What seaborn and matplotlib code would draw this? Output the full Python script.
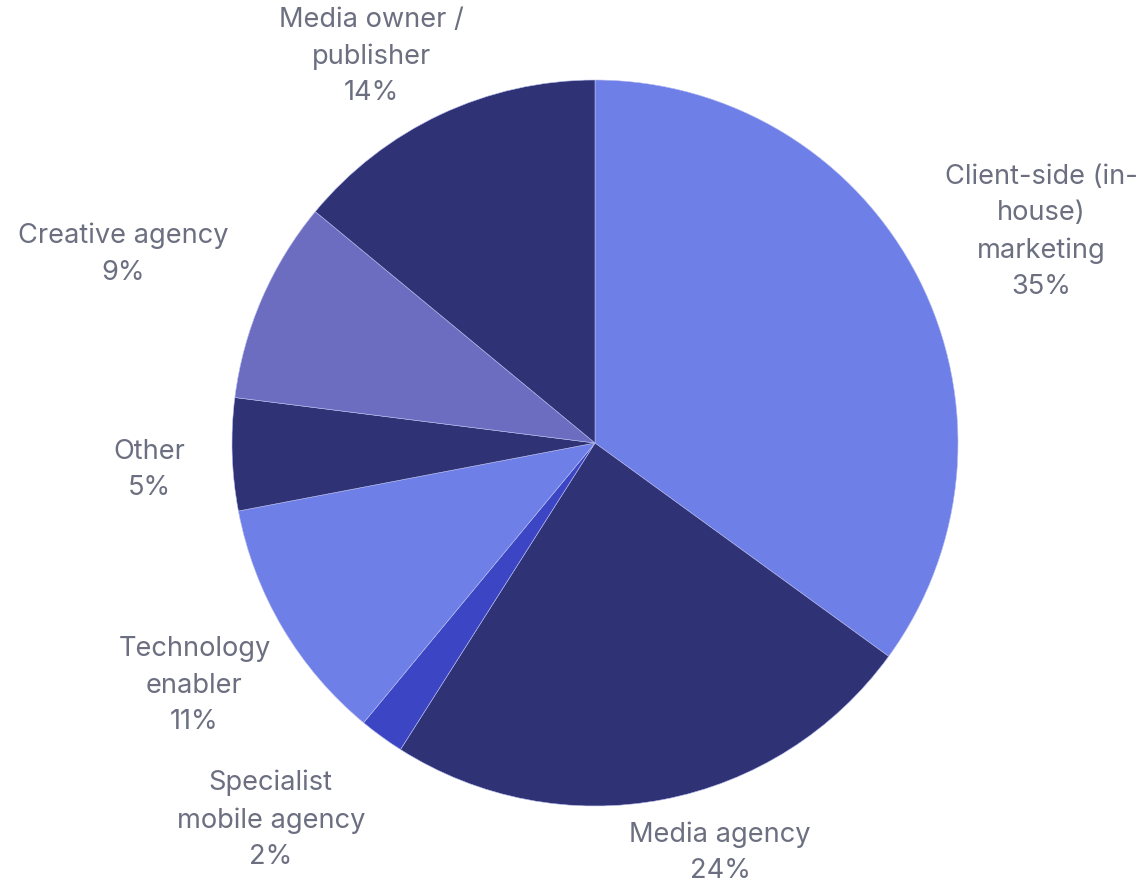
import numpy as np
import matplotlib
matplotlib.use("Agg")
import matplotlib.pyplot as plt
import seaborn as sns

# Share of respondents by organisation type
categories = [
    "Client-side (in-\nhouse)\nmarketing",
    "Media agency",
    "Specialist\nmobile agency",
    "Technology\nenabler",
    "Other",
    "Creative agency",
    "Media owner /\npublisher",
]
shares = [35, 24, 2, 11, 5, 9, 14]

colors = ["#6E7FE8", "#2F3275", "#3C45C4", "#6E7FE8", "#2F3275", "#6C6DC0", "#2F3275"]

# Radial distance of each label (in pie radii) and small angular nudges (degrees)
label_radius = [1.36, 1.18, 1.37, 1.29, 1.23, 1.40, 1.23]
label_nudge = [-1.7, 6.2, -4.7, 0.6, 1.7, 1.6, 4.8]

sns.set_theme(style="white")
plt.rcParams["font.family"] = ["Inter", "DejaVu Sans"]

W, H, DPI = 1143, 885, 100
fig = plt.figure(figsize=(W / DPI, H / DPI), dpi=DPI)
ax = fig.add_axes([0, 0, 1, 1])

R_PX = 363.0
CX, CY = 595.0, 443.0

wedges, _ = ax.pie(
    shares,
    colors=colors,
    startangle=90,
    counterclock=False,
    radius=1.0,
    center=(0, 0),
    wedgeprops=dict(linewidth=0.4, edgecolor="#B8BEF0"),
)

start = 90.0
for lab, val, rr, nudge in zip(categories, shares, label_radius, label_nudge):
    span = val / sum(shares) * 360.0
    mid = np.deg2rad(start - span / 2 + nudge)
    start -= span
    ax.text(rr * np.cos(mid), rr * np.sin(mid), f"{lab}\n{val}%",
            ha="center", va="center", multialignment="center",
            fontsize=19.6, color="#6B6F80", linespacing=1.52)

ax.set_xlim(-CX / R_PX, (W - CX) / R_PX)
ax.set_ylim(-(H - CY) / R_PX, CY / R_PX)
ax.set_aspect("auto")
ax.axis("off")

fig.savefig("out.png", dpi=DPI, facecolor="white")
